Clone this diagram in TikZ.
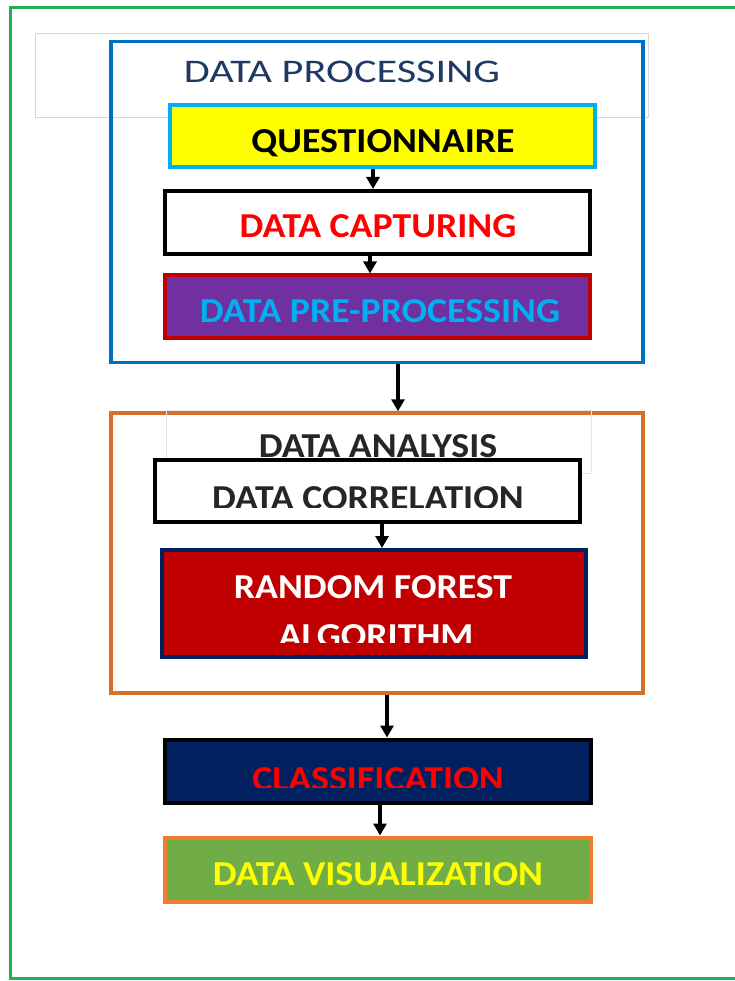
\documentclass[tikz,border=0pt]{standalone}
\usepackage{fontspec}
\setmainfont{Carlito}
\usetikzlibrary{arrows.meta}
\definecolor{frameg}{RGB}{34,177,76}
\definecolor{lgray}{RGB}{215,215,215}
\definecolor{pblue}{RGB}{0,112,192}
\definecolor{dpblue}{RGB}{31,56,100}
\definecolor{qyellow}{RGB}{255,255,0}
\definecolor{qcyan}{RGB}{0,176,240}
\definecolor{ppurple}{RGB}{112,48,160}
\definecolor{dred}{RGB}{192,0,0}
\definecolor{aorange}{RGB}{214,112,40}
\definecolor{dtext}{RGB}{38,38,38}
\definecolor{navy}{RGB}{0,32,96}
\definecolor{vgreen}{RGB}{112,173,71}
\definecolor{vorange}{RGB}{237,125,49}
\tikzset{
  box/.style={draw, rectangle, line width=4pt, inner sep=0pt},
  txt/.style={inner sep=0pt, anchor=base, xscale=1.08, font=\fontsize{35}{38}\selectfont\bfseries},
  arr/.style={line width=3.2pt, -{Triangle[length=12pt,width=13pt]}},
}
\begin{document}
\begin{tikzpicture}[x=1pt,y=-1pt]
\useasboundingbox[fill=white] (0,0) rectangle (735,981);
\begin{scope}
\clip (0,0) rectangle (735,981);
% outer green frame (right side off canvas)
\draw[frameg, line width=3pt] (760,8) -- (10,8) -- (10,978) -- (760,978);
\end{scope}
% faint gray text box behind title
\draw[lgray, line width=1pt] (35,34) rectangle (648,118);
% data processing group
\node[box, draw=pblue, line width=3.5pt, minimum width=532pt, minimum height=321pt] (proc) at (377,202) {};
\node[inner sep=0pt, anchor=base, xscale=1.28, text=dpblue, font=\fontsize{33}{38}\selectfont] (proct) at (342,83) {DATA PROCESSING};
\node[box, draw=qcyan, fill=qyellow, minimum width=425pt, minimum height=62pt] (q) at (382.5,136.5) {};
\node[txt, text=black] (qt) at (383,153) {QUESTIONNAIRE};
\node[box, draw=black, fill=white, minimum width=425pt, minimum height=63pt] (dc) at (377.5,222.5) {};
\node[txt, text=red] (dct) at (378,238) {DATA CAPTURING};
\node[box, draw=dred, fill=ppurple, minimum width=425pt, minimum height=62pt] (pp) at (377.5,306.5) {};
\node[txt, text=qcyan] (ppt) at (380,322) {DATA PRE-PROCESSING};
% data analysis group
\node[box, draw=aorange, line width=3.5pt, fill=white, minimum width=532pt, minimum height=280pt] (ana) at (377,553) {};
\draw[lgray!60, line width=0.8pt] (166,410) rectangle (591,473);
\node[txt, text=dtext] (anat) at (378,457) {DATA ANALYSIS};
\node[box, draw=black, fill=white, minimum width=425pt, minimum height=62pt] (cor) at (367.5,490.5) {};
\begin{scope}
\clip (150,470) rectangle (590,507);
\node[txt, text=dtext] (cort) at (368,509) {DATA CORRELATION};
\end{scope}
\node[box, draw=navy, fill=dred, minimum width=424pt, minimum height=107pt] (rf) at (373.5,603.5) {};
\node[txt, text=white] (rft1) at (373,598) {RANDOM FOREST};
\begin{scope}
\clip (170,610) rectangle (580,642);
\node[txt, text=white] (rft2) at (376,647) {ALGORITHM};
\end{scope}
% classification and visualization
\node[box, draw=black, fill=navy, minimum width=426pt, minimum height=63pt] (cls) at (377.5,771) {};
\begin{scope}
\clip (170,750) rectangle (580,787);
\node[txt, text=red] (clst) at (378,790) {CLASSIFICATION};
\end{scope}
\node[box, draw=vorange, fill=vgreen, minimum width=426pt, minimum height=64pt] (vis) at (377.5,869.5) {};
\node[txt, text=qyellow] (vist) at (378,885) {DATA VISUALIZATION};
% connectors
\draw[arr] (q.south -| 373,0) -- (dc.north -| 373,0);
\draw[arr] (dc.south -| 370,0) -- (pp.north -| 370,0);
\draw[arr] (proc.south -| 398,0) -- (ana.north -| 398,0);
\draw[arr] (cor.south -| 382,0) -- (rf.north -| 382,0);
\draw[arr] (ana.south -| 387,0) -- (cls.north -| 387,0);
\draw[arr] (cls.south -| 380,0) -- (vis.north -| 380,0);
\end{tikzpicture}
\end{document}
